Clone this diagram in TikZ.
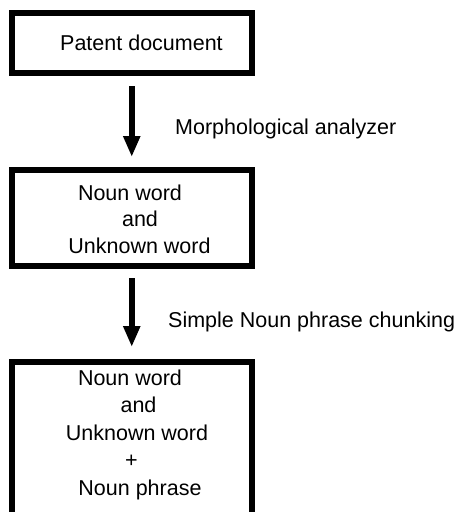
\documentclass[tikz,border=0pt]{standalone}
\usepackage{fontspec}
\setmainfont{Liberation Sans}
\usetikzlibrary{arrows.meta}
\begin{document}
\begin{tikzpicture}[x=1pt,y=-1pt,
  boxnode/.style={draw=black,line width=6pt,line join=miter,rectangle,outer sep=0pt,inner sep=0pt,minimum width=239.5pt},
  txt/.style={inner sep=0pt,font=\fontsize{21.5}{26.5}\selectfont},
  flowarrow/.style={line width=6pt,-{Triangle[width=16pt,length=21pt]}}]
\clip (0,0) rectangle (458,512);
\useasboundingbox (0,0) rectangle (458,512);
\node[boxnode,minimum height=59.5pt] (b1) at (131.75,42.75) {};
\node[boxnode,minimum height=95.5pt] (b2) at (131.75,217.75) {};
\node[boxnode,minimum height=198pt] (b3) at (131.75,461) {};
\node[txt,anchor=base west] (t1) at (60,50) {Patent document};
\node[txt,align=center,anchor=north] (t2) at (139.5,184.4) {Noun word\kern19pt\\\kern1pt and\\Unknown word};
\node[txt,align=center,anchor=north,font=\fontsize{21.5}{27.5}\selectfont] (t3) at (137,369.4) {Noun word\kern14pt\\\kern3pt and\\Unknown word\\+\kern11pt\\\kern6pt Noun phrase};
\node[txt,anchor=base west] (l1) at (175,134) {Morphological analyzer};
\node[txt,anchor=base west] (l2) at (168,327) {Simple Noun phrase chunking};
\draw[flowarrow,shorten <=13.5pt,shorten >=13pt] (b1.south) -- (b2.north);
\draw[flowarrow,shorten <=12.5pt,shorten >=15pt] (b2.south) -- (b3.north);
\end{tikzpicture}
\end{document}
